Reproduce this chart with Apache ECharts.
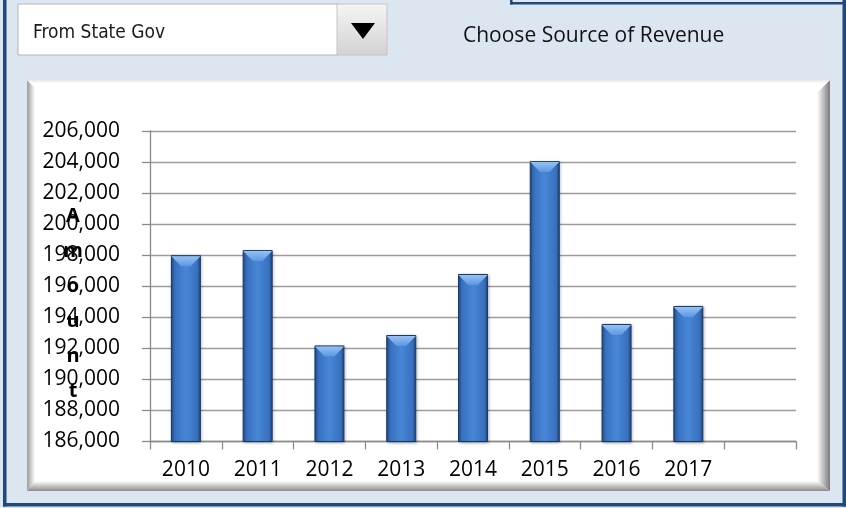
<!DOCTYPE html>
<html>
<head>
<meta charset="utf-8">
<script src="https://cdn.jsdelivr.net/npm/echarts@6.0.0/dist/echarts.min.js"></script>
<style>
html,body{margin:0;padding:0;background:#dce6f1;}
#chart{width:846px;height:508px;}
</style>
</head>
<body>
<div id="chart"></div>
<script>
const categories = ['2010','2011','2012','2013','2014','2015','2016','2017',''];
const values = [198000, 198330, 192190, 192860, 196790, 204060, 193570, 194730, null];
const yMin = 186000;
const yMax = 206000;
const yStep = 2000;
const axisTitle = 'Amount';
const dropdownText = 'From State Gov';
const promptText = 'Choose Source of Revenue';

const chart = echarts.init(document.getElementById('chart'), null, {renderer: 'canvas'});
const border = '#1f497d';

const option = {
  backgroundColor: '#dce6f1',
  animation: false,
  graphic: [
    {type:'rect', shape:{x:3, y:0, width:3.5, height:506.5}, style:{fill:border}, z:10},
    {type:'rect', shape:{x:3, y:503, width:843, height:3.5}, style:{fill:border}, z:10},
    {type:'rect', shape:{x:842.5, y:0, width:3.5, height:506.5}, style:{fill:border}, z:10},
    {type:'rect', shape:{x:510, y:0, width:2.5, height:4.5}, style:{fill:border}, z:10},
    {type:'rect', shape:{x:510, y:2, width:336, height:2.5}, style:{fill:border}, z:10},
    {type:'rect', shape:{x:18, y:4, width:320, height:51}, style:{fill:'#ffffff', stroke:'#b4b4b4', lineWidth:1}, z:10},
    {type:'rect', shape:{x:337, y:4, width:50, height:51},
      style:{fill:new echarts.graphic.LinearGradient(0,0,0,1,[{offset:0,color:'#f5f5f5'},{offset:1,color:'#d2d2d2'}]), stroke:'#c4c4c4', lineWidth:1}, z:10},
    {type:'polygon', shape:{points:[[351,23],[375,23],[363,39]]}, style:{fill:'#000000'}, z:11},
    {type:'text', x:33, y:33, style:{text:dropdownText, fill:'#1a1a1a', font:'19px "DejaVu Sans Condensed", "DejaVu Sans", sans-serif', textVerticalAlign:'middle'}, z:11},
    {type:'text', x:463, y:36, style:{text:promptText, fill:'#111111', font:'21px "Open Sans", sans-serif', textVerticalAlign:'middle'}, z:11},
    {type:'rect', shape:{x:27, y:80, width:803, height:411}, style:{fill:'#ffffff'}, z:-10},
    {type:'polygon', shape:{points:[[27,80],[35,88],[35,482],[27,491]]},
      style:{fill:new echarts.graphic.LinearGradient(0,0,1,0,[{offset:0,color:'#9a9a9a'},{offset:1,color:'#ffffff'}])}, z:-9},
    {type:'polygon', shape:{points:[[830,80],[817,93],[817,481],[830,491]]},
      style:{fill:new echarts.graphic.LinearGradient(0,0,1,0,[{offset:0,color:'#ffffff'},{offset:1,color:'#7a7a7a'}])}, z:-9},
    {type:'polygon', shape:{points:[[27,491],[35,481],[817,481],[830,491]]},
      style:{fill:new echarts.graphic.LinearGradient(0,0,0,1,[{offset:0,color:'#ffffff'},{offset:1,color:'#8a8a8a'}])}, z:-9},
    {type:'polygon', shape:{points:[[27,80],[830,80],[826,83],[31,83]]},
      style:{fill:new echarts.graphic.LinearGradient(0,0,0,1,[{offset:0,color:'#e6e6e6'},{offset:1,color:'#ffffff'}])}, z:-9},
    {type:'text', x:73, y:199, style:{text:axisTitle.split('').join('\n'), fill:'#000000', font:'bold 20px "Open Sans", sans-serif', textAlign:'center', textVerticalAlign:'top', lineHeight:35}, z:20}
  ],
  grid: {left:150, right:50, top:131, bottom:66.5, containLabel:false},
  xAxis: {
    type:'category',
    data: categories,
    boundaryGap: true,
    axisLine: {show:true, lineStyle:{color:'#8a8a8a', width:1.3}},
    axisTick: {show:true, inside:false, length:8, alignWithLabel:false, lineStyle:{color:'#8a8a8a', width:1.3}},
    axisLabel: {show:true, interval:0, margin:18, color:'#000000', fontSize:21, fontFamily:'"Open Sans", sans-serif'},
    splitLine: {show:false}
  },
  yAxis: {
    type:'value',
    min: yMin, max: yMax, interval: yStep,
    axisLine: {show:true, lineStyle:{color:'#8a8a8a', width:1.3}},
    axisTick: {show:true, inside:false, length:8, lineStyle:{color:'#8a8a8a', width:1.3}},
    axisLabel: {show:true, margin:30, color:'#000000', fontSize:21, fontFamily:'"Open Sans", sans-serif',
      formatter: v => v.toLocaleString('en-US')},
    splitLine: {show:true, lineStyle:{color:'#9c9c9c', width:1.3}}
  },
  series: [
    {
      type:'bar',
      data: values,
      barWidth: 30,
      barGap: '-100%',
      itemStyle: {
        color: new echarts.graphic.LinearGradient(0,0,1,0,[
          {offset:0, color:'#1f4a85'},
          {offset:0.12, color:'#3870be'},
          {offset:0.5, color:'#4887d6'},
          {offset:0.88, color:'#3870be'},
          {offset:1, color:'#1c4278'}
        ]),
        borderColor:'#1a3a66',
        borderWidth:1,
        shadowColor:'rgba(0,0,0,0.25)',
        shadowBlur:3,
        shadowOffsetX:1,
        shadowOffsetY:1
      },
      z: 2
    },
    {
      type:'pictorialBar',
      data: values,
      barWidth: 30,
      barGap: '-100%',
      symbol: 'path://M0,0 L30,0 L20,10 L10,10 Z',
      symbolSize: [29, 10],
      symbolPosition: 'end',
      symbolOffset: [0, 1],
      itemStyle: {
        color: new echarts.graphic.LinearGradient(0,0,0,1,[
          {offset:0, color:'#95c2f5'},
          {offset:1, color:'#5d96e0'}
        ])
      },
      z: 3
    }
  ]
};
chart.setOption(option);
</script>
</body>
</html>
